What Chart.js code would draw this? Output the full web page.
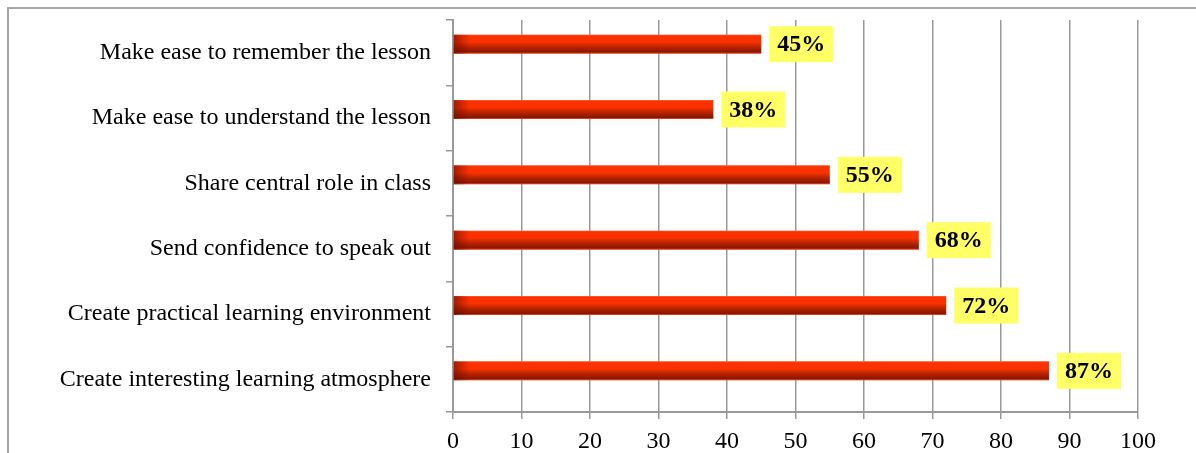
<!DOCTYPE html>
<html>
<head>
<meta charset="utf-8">
<script src="https://cdn.jsdelivr.net/npm/chart.js@4"></script>
<style>
  html, body { margin: 0; padding: 0; background: #fff; }
  #wrap { width: 1196px; height: 453px; }
</style>
</head>
<body>
<div id="wrap"><canvas id="c" width="1196" height="453"></canvas></div>
<script>
const categories = [
  "Make ease to remember the lesson",
  "Make ease to understand the lesson",
  "Share central role in class",
  "Send confidence to speak out",
  "Create practical learning environment",
  "Create interesting learning atmosphere"
];
const percentValues = [45, 38, 55, 68, 72, 87];
const depthSpacer = [null, null, null, null, null, null];
const xTickMin = 0;
const xTickMax = 100;
const xTickStep = 10;

const SERIF = '"Liberation Serif", "Times New Roman", serif';
const GRID = '#999999';

const framePlugin = {
  id: 'frame',
  beforeDraw(chart) {
    const ctx = chart.ctx;
    ctx.save();
    ctx.fillStyle = '#ffffff';
    ctx.fillRect(0, 0, chart.width, chart.height);
    ctx.strokeStyle = '#a6a6a6';
    ctx.lineWidth = 2;
    ctx.beginPath();
    ctx.moveTo(8, chart.height + 10);
    ctx.lineTo(8, 8);
    ctx.lineTo(chart.width + 10, 8);
    ctx.stroke();
    ctx.restore();
  }
};

const labelPlugin = {
  id: 'valueLabels',
  afterDatasetsDraw(chart) {
    const ctx = chart.ctx;
    const meta = chart.getDatasetMeta(0);
    ctx.save();
    meta.data.forEach((bar, i) => {
      const v = chart.data.datasets[0].data[i];
      if (v == null) return;
      const h = bar.height;
      const top = bar.y - h / 2;
      const w = bar.x - bar.base;
      const gv = ctx.createLinearGradient(0, top, 0, top + h);
      gv.addColorStop(0, 'rgba(255,170,150,0.55)');
      gv.addColorStop(0.08, 'rgba(255,60,20,0.0)');
      gv.addColorStop(0.4, 'rgba(0,0,0,0)');
      gv.addColorStop(0.92, 'rgba(70,5,0,0.62)');
      gv.addColorStop(1, 'rgba(200,120,100,0.35)');
      ctx.fillStyle = gv;
      ctx.fillRect(bar.base, top, w, h);
      const g = ctx.createLinearGradient(bar.base, 0, bar.base + 16, 0);
      g.addColorStop(0, 'rgba(110,10,0,0.6)');
      g.addColorStop(1, 'rgba(110,10,0,0)');
      ctx.fillStyle = g;
      ctx.fillRect(bar.base, top, 16, h);

      ctx.font = 'bold 24px ' + SERIF;
      ctx.textBaseline = 'middle';
      ctx.textAlign = 'center';
      const text = v + '%';
      const tw = ctx.measureText(text).width;
      const bw = tw + 16, bh = 36;
      const bx = bar.x + 8;
      const by = bar.y - bh / 2;
      ctx.fillStyle = '#ffff66';
      ctx.fillRect(bx, by, bw, bh);
      ctx.fillStyle = '#000000';
      ctx.fillText(text, bx + bw / 2, bar.y + 1);
    });
    ctx.restore();
  }
};

const ctx = document.getElementById('c').getContext('2d');

new Chart(ctx, {
  type: 'bar',
  data: {
    labels: categories,
    datasets: [
      {
        data: percentValues,
        backgroundColor: '#fa3200',
        borderWidth: 0,
        categoryPercentage: 0.52,
        barPercentage: 1.12
      },
      {
        data: depthSpacer,
        backgroundColor: 'rgba(0,0,0,0)',
        categoryPercentage: 0.52,
        barPercentage: 1.12
      }
    ]
  },
  options: {
    indexAxis: 'y',
    responsive: false,
    animation: false,
    devicePixelRatio: 1,
    layout: { padding: { top: 20, right: 58, left: 0, bottom: 0 } },
    plugins: {
      legend: { display: false },
      tooltip: { enabled: false }
    },
    scales: {
      x: {
        min: xTickMin,
        max: xTickMax,
        ticks: {
          stepSize: xTickStep,
          color: '#000',
          font: { family: SERIF, size: 24 },
          padding: 8
        },
        grid: {
          color: GRID,
          lineWidth: 1.5,
          tickLength: 7,
          drawTicks: true
        },
        border: { display: true, color: GRID, width: 2 },
        afterFit(scale) { scale.height = 41; scale.paddingLeft = 0; scale.paddingRight = 0; }
      },
      y: {
        ticks: {
          color: '#000',
          font: { family: SERIF, size: 24 },
          padding: 15,
          autoSkip: false
        },
        grid: {
          offset: true,
          drawOnChartArea: false,
          drawTicks: true,
          tickLength: 7,
          color: GRID,
          lineWidth: 1.5
        },
        border: { display: true, color: GRID, width: 2 },
        afterFit(scale) { scale.width = 453; scale.paddingTop = 0; scale.paddingBottom = 0; }
      }
    }
  },
  plugins: [framePlugin, labelPlugin]
});
</script>
</body>
</html>
